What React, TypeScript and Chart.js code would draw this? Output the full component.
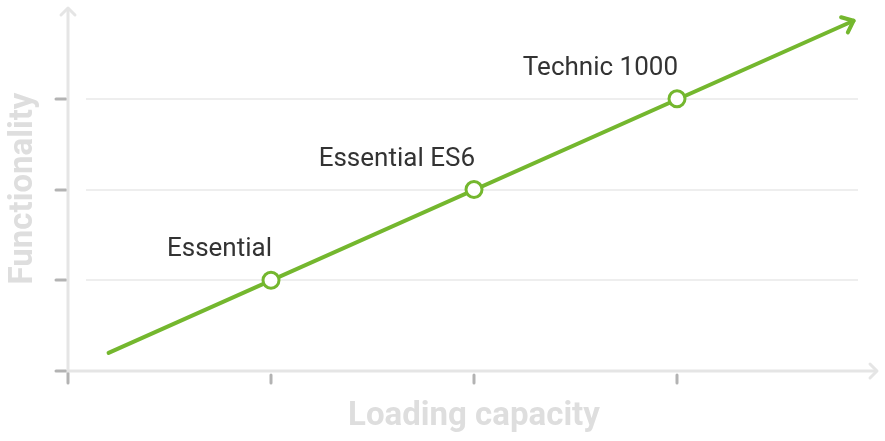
import React, { useEffect, useRef } from "react";
import { Chart, registerables } from "chart.js";

Chart.register(...registerables);

const products = ["Essential", "Essential ES6", "Technic 1000"];
const loadingCapacity = [1, 2, 3];
const functionality = [1, 2, 3];
const trendX = [0.2, 3.87];
const trendY = [0.2, 3.86];
const gridValues = [1, 2, 3];
const xTickValues = [0, 1, 2, 3];
const yTickValues = [0, 1, 2, 3];
const xTitle = "Loading capacity";
const yTitle = "Functionality";

const GREEN = "#74b72e";
const AXIS = "#e5e5e5";
const TICK = "#b3b3b3";
const TITLE = "#dedede";

export default function App() {
  const ref = useRef<HTMLCanvasElement | null>(null);
  useEffect(() => {
    document.body.style.margin = "0";
    const canvas = ref.current!;
    const decor = {
      id: "decor",
      beforeDatasetsDraw(chart: any) {
        const ctx = chart.ctx;
        const xs = chart.scales.x;
        const ys = chart.scales.y;
        const area = chart.chartArea;
        ctx.save();
        // grid lines
        ctx.strokeStyle = "#eeeeee";
        ctx.lineWidth = 2;
        gridValues.forEach((v) => {
          const y = Math.round(ys.getPixelForValue(v));
          ctx.beginPath();
          ctx.moveTo(area.left + 18, y);
          ctx.lineTo(area.right - 22, y);
          ctx.stroke();
        });
        // ticks
        ctx.strokeStyle = TICK;
        ctx.lineWidth = 3;
        ctx.lineCap = "round";
        yTickValues.forEach((v) => {
          const y = Math.round(ys.getPixelForValue(v));
          ctx.beginPath();
          ctx.moveTo(area.left - 12, y);
          ctx.lineTo(area.left - 2, y);
          ctx.stroke();
        });
        xTickValues.forEach((v, i) => {
          const x = Math.round(xs.getPixelForValue(v));
          ctx.beginPath();
          ctx.moveTo(x, area.bottom + (i === 0 ? 2 : 4));
          ctx.lineTo(x, area.bottom + 12);
          ctx.stroke();
        });
        // axes
        ctx.strokeStyle = AXIS;
        ctx.lineWidth = 3;
        ctx.lineCap = "butt";
        const x0 = xs.getPixelForValue(0);
        const y0 = ys.getPixelForValue(0);
        const xEnd = area.right - 3;
        ctx.beginPath();
        ctx.moveTo(x0, y0 + 1.5);
        ctx.lineTo(x0, area.top);
        ctx.moveTo(x0 - 1.5, y0);
        ctx.lineTo(xEnd, y0);
        ctx.stroke();
        ctx.lineCap = "round";
        ctx.lineJoin = "round";
        ctx.beginPath();
        ctx.moveTo(x0 - 7, area.top + 7);
        ctx.lineTo(x0, area.top);
        ctx.lineTo(x0 + 7, area.top + 7);
        ctx.moveTo(xEnd - 7, y0 - 7);
        ctx.lineTo(xEnd, y0);
        ctx.lineTo(xEnd - 7, y0 + 7);
        ctx.stroke();
        // titles
        ctx.fillStyle = TITLE;
        ctx.font = "bold 33px Roboto";
        ctx.textAlign = "center";
        ctx.textBaseline = "alphabetic";
        ctx.fillText(xTitle, xs.getPixelForValue(2), 425);
        ctx.save();
        ctx.translate(32, ys.getPixelForValue(2) - 1);
        ctx.rotate(-Math.PI / 2);
        ctx.fillText(yTitle, 0, 0);
        ctx.restore();
        ctx.restore();
      },
      afterDatasetsDraw(chart: any) {
        const ctx = chart.ctx;
        const xs = chart.scales.x;
        const ys = chart.scales.y;
        ctx.save();
        // arrow head on trend line
        const ax = xs.getPixelForValue(trendX[1]);
        const ay = ys.getPixelForValue(trendY[1]);
        const bx = xs.getPixelForValue(trendX[0]);
        const by = ys.getPixelForValue(trendY[0]);
        const ang = Math.atan2(ay - by, ax - bx);
        const L = 13;
        ctx.strokeStyle = GREEN;
        ctx.lineWidth = 4;
        ctx.lineCap = "round";
        ctx.lineJoin = "round";
        ctx.beginPath();
        ctx.moveTo(ax + L * Math.cos(ang + Math.PI * 0.78), ay + L * Math.sin(ang + Math.PI * 0.78));
        ctx.lineTo(ax, ay);
        ctx.lineTo(ax + L * Math.cos(ang - Math.PI * 0.78), ay + L * Math.sin(ang - Math.PI * 0.78));
        ctx.stroke();
        // labels
        ctx.fillStyle = "#333333";
        ctx.font = "26px Roboto";
        ctx.textAlign = "right";
        ctx.textBaseline = "alphabetic";
        products.forEach((p, i) => {
          const x = xs.getPixelForValue(loadingCapacity[i]);
          const y = ys.getPixelForValue(functionality[i]);
          ctx.fillText(p, x + 1, y - 24);
        });
        ctx.restore();
      },
    };
    const chart = new Chart(canvas, {
      type: "line",
      data: {
        datasets: [
          {
            data: trendX.map((x, i) => ({ x, y: trendY[i] })),
            borderColor: GREEN,
            borderWidth: 4,
            borderCapStyle: "round",
            pointRadius: 0,
            pointHoverRadius: 0,
            order: 2,
          } as any,
          {
            data: loadingCapacity.map((x, i) => ({ x, y: functionality[i] })),
            showLine: false,
            pointRadius: 8,
            pointHoverRadius: 8,
            pointBorderWidth: 3,
            pointBorderColor: GREEN,
            pointBackgroundColor: "#ffffff",
            order: 1,
          } as any,
        ],
      },
      options: {
        responsive: false,
        animation: false,
        events: [],
        layout: { autoPadding: false, padding: { left: 68, right: 5, top: 8, bottom: 70 } },
        plugins: { legend: { display: false }, tooltip: { enabled: false } },
        scales: {
          x: { type: "linear", min: 0, max: 4, display: false },
          y: { type: "linear", min: 0, max: 4, display: false },
        },
      },
      plugins: [decor],
    });
    return () => chart.destroy();
  }, []);
  return <canvas ref={ref} width={885} height={441} style={{ display: "block" }} />;
}
